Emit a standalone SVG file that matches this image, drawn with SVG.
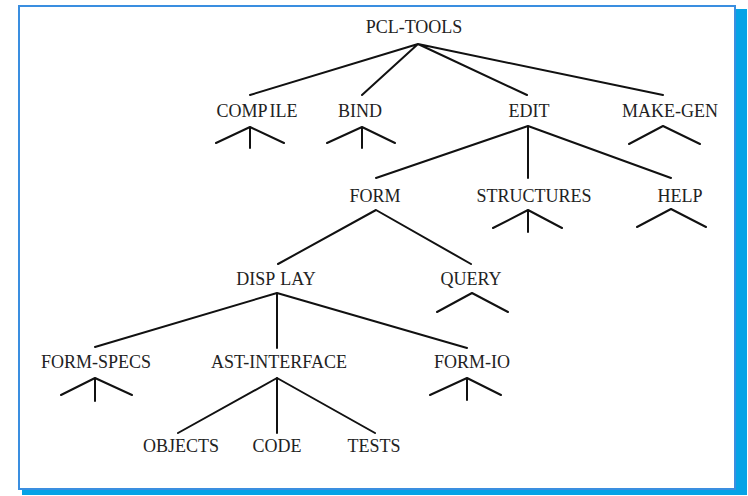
<svg xmlns="http://www.w3.org/2000/svg" width="748" height="496" viewBox="0 0 748 496">
<style>
.lbl{font-family:"Liberation Serif","Times New Roman",serif;font-size:18px;fill:#222;text-anchor:middle}
.ln{stroke:#111;stroke-width:2;fill:none;stroke-linecap:round;stroke-linejoin:round}
</style>
<rect x="22" y="9" width="725" height="486" fill="#05a3e6"/>
<rect x="19" y="6" width="716" height="483" fill="#fff" stroke="#3a8ee0" stroke-width="2"/>
<g id="connectors" class="ln">
<path d="M418 44L250 95M418 44L362 95M418 44L527 95M418 44L663 95"/>
<path d="M528 126L376 178M528 126V178M528 126L671 178"/>
<path d="M376 210L278 264M376 210L471 264"/>
<path d="M277 293L95 347M277 293V348M277 293L467 348"/>
<path d="M277 378L178 433M277 378V433M277 378L375 433"/>
</g>
<g id="pcl-tools"><text class="lbl" x="414" y="33">PCL-TOOLS</text></g>
<g id="compile"><text class="lbl" x="257" y="117">COMP<tspan dx="2">ILE</tspan></text><path class="ln" d="M216 143L250 127L284 143M250 127V148"/></g>
<g id="bind"><text class="lbl" x="360" y="117">BIND</text><path class="ln" d="M327 143L362 127L395 143M362 127V148"/></g>
<g id="edit"><text class="lbl" x="529" y="117">EDIT</text></g>
<g id="make-gen"><text class="lbl" x="670" y="117">MAKE-GEN</text><path class="ln" d="M629 144L663 126L700 144"/></g>
<g id="form"><text class="lbl" x="375" y="202">FORM</text></g>
<g id="structures"><text class="lbl" x="534" y="202">STRUCTURES</text><path class="ln" d="M493 228L528 210L562 228M528 210V232"/></g>
<g id="help"><text class="lbl" x="680" y="202">HELP</text><path class="ln" d="M637 227L671 209L706 227"/></g>
<g id="display"><text class="lbl" x="276" y="285">DISP<tspan dx="5">LAY</tspan></text></g>
<g id="query"><text class="lbl" x="471" y="285">QUERY</text><path class="ln" d="M437 312L472 293L508 312"/></g>
<g id="form-specs"><text class="lbl" x="96" y="368">FORM-SPECS</text><path class="ln" d="M61 395L95 378L132 395M95 378V401"/></g>
<g id="ast-interface"><text class="lbl" x="279" y="368">AST-INTERFACE</text></g>
<g id="form-io"><text class="lbl" x="472" y="368">FORM-IO</text><path class="ln" d="M430 395L467 378L501 395M467 378V400"/></g>
<g id="objects"><text class="lbl" x="181" y="452">OBJECTS</text></g>
<g id="code"><text class="lbl" x="277" y="452">CODE</text></g>
<g id="tests"><text class="lbl" x="374" y="452">TESTS</text></g>
</svg>
